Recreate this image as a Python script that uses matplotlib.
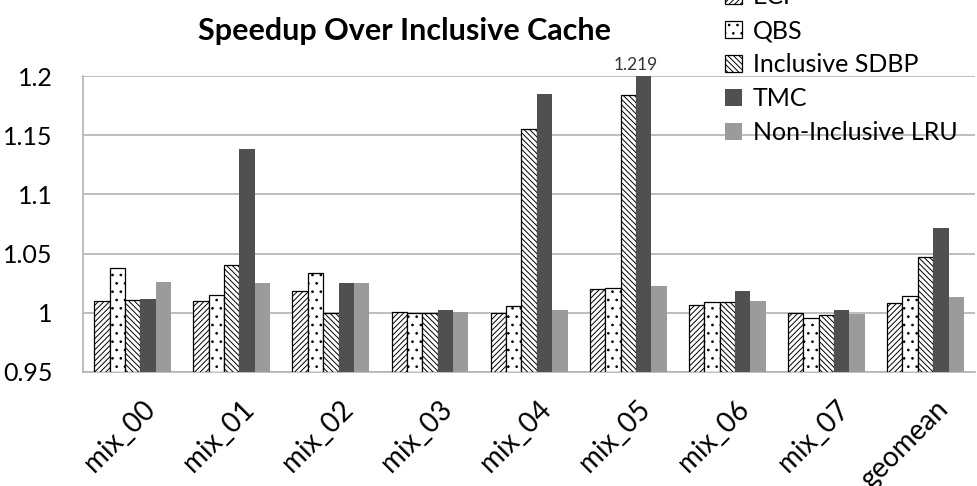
import matplotlib.pyplot as plt
import matplotlib.transforms as mtransforms
import numpy as np

plt.rcParams['font.family'] = ['Lato', 'DejaVu Sans']
plt.rcParams['hatch.linewidth'] = 0.7

categories = ['mix_00', 'mix_01', 'mix_02', 'mix_03', 'mix_04', 'mix_05', 'mix_06', 'mix_07', 'geomean']
series_names = ['ECP', 'QBS', 'Inclusive SDBP', 'TMC', 'Non-Inclusive LRU']

ecp = [1.010, 1.010, 1.018, 1.001, 1.000, 1.020, 1.007, 1.000, 1.008]
qbs = [1.038, 1.015, 1.034, 1.000, 1.006, 1.021, 1.009, 0.996, 1.014]
sdbp = [1.011, 1.040, 1.000, 1.000, 1.155, 1.184, 1.009, 0.998, 1.047]
tmc = [1.012, 1.138, 1.025, 1.002, 1.185, 1.219, 1.018, 1.002, 1.072]
ni_lru = [1.026, 1.025, 1.025, 1.001, 1.002, 1.023, 1.010, 0.999, 1.013]

ymin, ymax = 0.95, 1.2

styles = [
    dict(color='white', edgecolor='black', hatch='//////', linewidth=0.9),
    dict(color='white', edgecolor='black', hatch='..', linewidth=0.9),
    dict(color='white', edgecolor='black', hatch='\\\\\\\\\\\\', linewidth=0.9),
    dict(color='#505050', edgecolor='none'),
    dict(color='#9b9b9b', edgecolor='none'),
]

fig = plt.figure(figsize=(9.78, 4.86), dpi=100)
ax = fig.add_axes([0.085, 0.2346, 0.912, 0.6090])

x = np.arange(len(categories))
w = 0.155
all_series = [ecp, qbs, sdbp, tmc, ni_lru]
for i, (vals, name, st) in enumerate(zip(all_series, series_names, styles)):
    offs = (i - 2) * w
    ax.bar(x + offs, np.array(vals) - ymin, bottom=ymin, width=w, label=name, zorder=3, **st)

# value above the clipped bar
ax.annotate(f'{tmc[5]:.3f}', xy=(x[5] + w - 0.08, ymax), xytext=(0, 2), textcoords='offset points',
            ha='center', va='bottom', fontsize=12.5, color='#333333', annotation_clip=False)

ax.set_xlim(-0.5, len(categories) - 0.5)
ax.set_ylim(ymin, ymax)
ax.set_yticks([0.95, 1.0, 1.05, 1.1, 1.15, 1.2])
ax.set_yticklabels(['0.95', '1', '1.05', '1.1', '1.15', '1.2'], fontsize=18)
ax.set_xticks(x)
ax.set_xticklabels(categories, fontsize=20, rotation=45, ha='right', rotation_mode='anchor')
ax.tick_params(axis='y', length=0, pad=22)
ax.tick_params(axis='x', length=0, pad=17)
shift = mtransforms.ScaledTranslation(9 / 100, 0, fig.dpi_scale_trans)
for lbl in ax.get_xticklabels():
    lbl.set_transform(lbl.get_transform() + shift)
ax.grid(True, axis='y', color='#b3b3b3', linewidth=1.2, zorder=0)
ax.set_axisbelow(True)
for s in ['top', 'right']:
    ax.spines[s].set_visible(False)
for s in ['left', 'bottom']:
    ax.spines[s].set_color('#b3b3b3')
    ax.spines[s].set_linewidth(1.2)

fig.text(405 / 978, 1 - 31 / 486, 'Speedup Over Inclusive Cache', ha='center', va='center',
         fontsize=22, fontweight='bold')

leg = fig.legend(loc='upper left', bbox_to_anchor=(713 / 978, 1 + 27 / 486), frameon=False,
                 fontsize=18, handlelength=0.65, handleheight=0.65, handletextpad=0.45,
                 labelspacing=0.44, borderpad=0.0)

fig.savefig('out.png', dpi=100)
